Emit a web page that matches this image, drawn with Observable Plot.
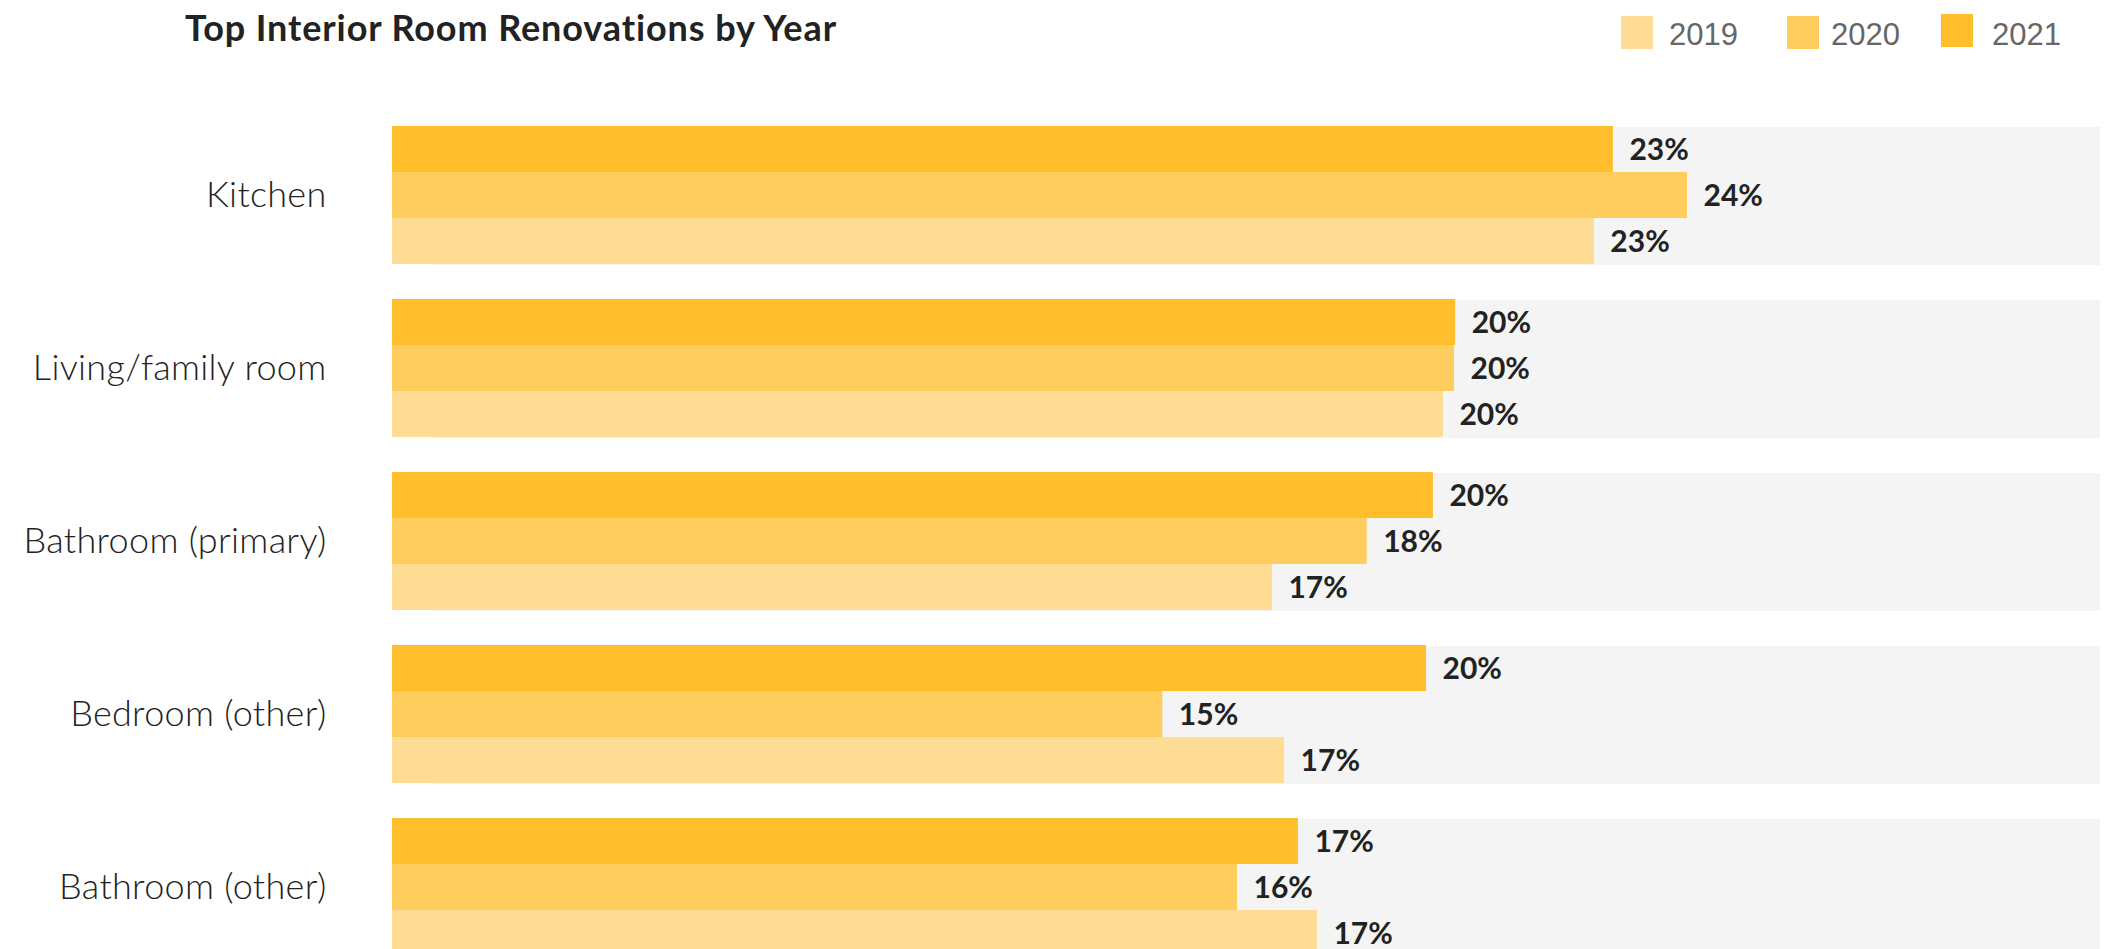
<!DOCTYPE html>
<html>
<head>
<meta charset="utf-8">
<script src="https://cdn.jsdelivr.net/npm/d3@7"></script>
<script src="https://cdn.jsdelivr.net/npm/@observablehq/plot@0.6"></script>
<style>
  html, body { margin: 0; padding: 0; background: #fff; overflow: hidden; }
  #header { position: relative; width: 2120px; height: 100px; }
  #title { position: absolute; left: 185px; top: 9px; font-family: Lato, sans-serif; font-weight: 700; font-size: 36px; line-height: 36px; letter-spacing: 0.9px; color: #222; white-space: nowrap; }
  .sw { position: absolute; width: 32px; height: 33px; }
  .lt { position: absolute; font-family: "Liberation Sans", Arial, sans-serif; font-size: 31px; line-height: 31px; color: #666; }
  #chart svg { display: block; }
  #chart svg g[aria-label="fy-axis tick label"] text { letter-spacing: 0.3px; }
</style>
</head>
<body>
<div id="header"><div id="title">Top Interior Room Renovations by Year</div></div>
<div id="chart"></div>
<script>
const rooms = ["Kitchen", "Living/family room", "Bathroom (primary)", "Bedroom (other)", "Bathroom (other)"];
const years = ["2019", "2020", "2021"];
const colors = ["#FFDC93", "#FFCD5E", "#FFBE2B"];
const v2019 = [22.7, 19.85, 16.62, 16.85, 17.47];
const v2020 = [24.46, 20.06, 18.41, 14.55, 15.96];
const v2021 = [23.06, 20.08, 19.66, 19.53, 17.11];
const l2019 = [23, 20, 17, 17, 17];
const l2020 = [24, 20, 18, 15, 16];
const l2021 = [23, 20, 20, 20, 17];
const trackStart = 0.77, trackEnd = 32.26;

const vals = {"2019": v2019, "2020": v2020, "2021": v2021};
const labs = {"2019": l2019, "2020": l2020, "2021": l2021};
const data = [];
rooms.forEach((r, i) => years.forEach(y => data.push({room: r, year: y, value: vals[y][i], label: labs[y][i]})));

// legend
const header = document.getElementById("header");
const swX = [1621, 1787, 1941], swY = [16, 16, 14], txX = [1669, 1831, 1992];
years.forEach((y, i) => {
  const s = document.createElement("div");
  s.className = "sw"; s.style.left = swX[i] + "px"; s.style.top = swY[i] + "px"; s.style.background = colors[i];
  header.appendChild(s);
  const t = document.createElement("div");
  t.className = "lt"; t.style.left = txX[i] + "px"; t.style.top = "19px"; t.textContent = y;
  header.appendChild(t);
});

const chart = Plot.plot({
  width: 2120,
  height: 849,
  marginLeft: 392,
  marginRight: 20,
  marginTop: 25,
  marginBottom: -8.4,
  x: {domain: [0, trackEnd], axis: null},
  y: {domain: ["2021", "2020", "2019"], padding: 0, axis: null},
  fy: {domain: rooms, paddingInner: 0.205, paddingOuter: 0},
  color: {domain: years, range: colors},
  marks: [
    Plot.barX(rooms, {fy: d => d, x1: trackStart, x2: trackEnd, fill: "#F4F4F4", dy: 1}),
    Plot.barX(data, {fy: "room", y: "year", x: "value", fill: "year"}),
    Plot.text(data, {fy: "room", y: "year", x: "value", text: d => d.label + "%", dx: 16, dy: 1, textAnchor: "start",
      fontFamily: "Lato, sans-serif", fontWeight: 700, fontSize: 30, fill: "#222"}),
    Plot.axisFy({anchor: "left", tickSize: 0, tickPadding: 66, fontSize: 36, fontWeight: 300,
      fontFamily: "Lato, sans-serif", fill: "#222", label: null})
  ]
});
document.getElementById("chart").appendChild(chart);
</script>
</body>
</html>
